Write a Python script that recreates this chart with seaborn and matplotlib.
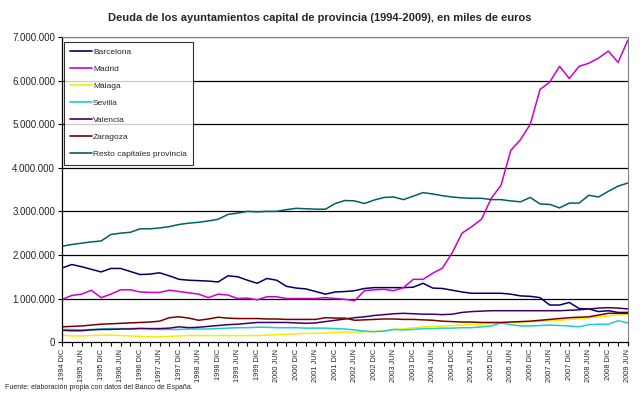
import pandas as pd
import matplotlib
matplotlib.use("Agg")
import matplotlib.pyplot as plt
import seaborn as sns

# quarterly periods, Dec 1994 .. Jun 2009 (labels on every second quarter)
periods = []
for year in range(1994, 2010):
    for q in ["MAR", "JUN", "SEP", "DIC"]:
        periods.append(f"{year} {q}")
periods = periods[periods.index("1994 DIC"):periods.index("2009 JUN") + 1]

# values in millions of euros (x1000 thousands)
barcelona = [1.70, 1.78, 1.73, 1.67, 1.61, 1.69, 1.69, 1.62, 1.55, 1.56,
             1.59, 1.52, 1.44, 1.42, 1.41, 1.40, 1.38, 1.52, 1.50, 1.42,
             1.35, 1.46, 1.42, 1.28, 1.24, 1.22, 1.16, 1.10, 1.15, 1.16,
             1.18, 1.23, 1.25, 1.25, 1.25, 1.25, 1.26, 1.35, 1.24, 1.23,
             1.19, 1.15, 1.12, 1.12, 1.12, 1.12, 1.10, 1.06, 1.05, 1.02,
             0.85, 0.85, 0.91, 0.77, 0.76, 0.70, 0.72, 0.68, 0.68]
madrid = [0.98, 1.07, 1.10, 1.19, 1.02, 1.10, 1.20, 1.20, 1.15, 1.14,
          1.14, 1.19, 1.16, 1.13, 1.10, 1.02, 1.10, 1.08, 1.00, 1.01,
          0.97, 1.04, 1.04, 1.00, 1.00, 1.00, 1.00, 1.02, 1.00, 0.98,
          0.95, 1.18, 1.20, 1.21, 1.18, 1.25, 1.44, 1.44, 1.58, 1.70,
          2.05, 2.50, 2.65, 2.82, 3.30, 3.60, 4.40, 4.65, 5.00, 5.80,
          5.97, 6.33, 6.05, 6.33, 6.40, 6.52, 6.68, 6.42, 6.93]
malaga = [0.16, 0.14, 0.14, 0.15, 0.16, 0.16, 0.15, 0.14, 0.13, 0.12,
          0.12, 0.13, 0.14, 0.15, 0.15, 0.15, 0.15, 0.15, 0.15, 0.15,
          0.15, 0.16, 0.17, 0.18, 0.19, 0.20, 0.20, 0.21, 0.22, 0.23,
          0.23, 0.24, 0.24, 0.26, 0.29, 0.30, 0.33, 0.35, 0.36, 0.37,
          0.38, 0.39, 0.40, 0.41, 0.43, 0.44, 0.45, 0.46, 0.47, 0.48,
          0.49, 0.50, 0.52, 0.53, 0.56, 0.58, 0.60, 0.62, 0.64]
sevilla = [0.29, 0.29, 0.28, 0.29, 0.30, 0.31, 0.31, 0.31, 0.32, 0.30,
           0.29, 0.29, 0.29, 0.30, 0.30, 0.30, 0.31, 0.32, 0.33, 0.33,
           0.34, 0.34, 0.33, 0.33, 0.33, 0.32, 0.32, 0.32, 0.31, 0.30,
           0.28, 0.25, 0.24, 0.25, 0.29, 0.28, 0.29, 0.31, 0.31, 0.32,
           0.32, 0.33, 0.33, 0.35, 0.37, 0.44, 0.40, 0.37, 0.37, 0.38,
           0.39, 0.38, 0.37, 0.35, 0.40, 0.41, 0.41, 0.49, 0.44]
valencia = [0.27, 0.26, 0.26, 0.28, 0.29, 0.29, 0.30, 0.30, 0.31, 0.31,
            0.31, 0.32, 0.35, 0.33, 0.34, 0.36, 0.38, 0.40, 0.41, 0.43,
            0.45, 0.45, 0.45, 0.45, 0.44, 0.43, 0.44, 0.47, 0.50, 0.53,
            0.56, 0.58, 0.61, 0.63, 0.65, 0.66, 0.65, 0.64, 0.64, 0.63,
            0.64, 0.68, 0.70, 0.71, 0.72, 0.72, 0.72, 0.72, 0.72, 0.72,
            0.72, 0.72, 0.73, 0.74, 0.76, 0.78, 0.79, 0.78, 0.76]
zaragoza = [0.35, 0.36, 0.37, 0.39, 0.41, 0.42, 0.43, 0.44, 0.45, 0.46,
            0.48, 0.56, 0.58, 0.55, 0.50, 0.53, 0.57, 0.55, 0.54, 0.54,
            0.54, 0.53, 0.53, 0.52, 0.52, 0.52, 0.52, 0.56, 0.55, 0.55,
            0.50, 0.51, 0.52, 0.53, 0.53, 0.52, 0.52, 0.51, 0.50, 0.48,
            0.47, 0.46, 0.46, 0.45, 0.45, 0.45, 0.46, 0.47, 0.48, 0.50,
            0.52, 0.54, 0.56, 0.57, 0.58, 0.62, 0.66, 0.66, 0.66]
resto = [2.20, 2.24, 2.27, 2.30, 2.32, 2.47, 2.50, 2.52, 2.60, 2.60,
         2.62, 2.65, 2.70, 2.73, 2.75, 2.78, 2.82, 2.93, 2.96, 3.00,
         2.99, 3.00, 3.00, 3.04, 3.07, 3.06, 3.05, 3.05, 3.18, 3.25,
         3.24, 3.18, 3.26, 3.32, 3.33, 3.27, 3.35, 3.43, 3.40, 3.36,
         3.33, 3.31, 3.30, 3.30, 3.27, 3.27, 3.24, 3.22, 3.32, 3.17,
         3.16, 3.08, 3.19, 3.19, 3.37, 3.33, 3.46, 3.58, 3.65]

series = {
    "Barcelona": barcelona,
    "Madrid": madrid,
    "Málaga": malaga,
    "Sevilla": sevilla,
    "Valencia": valencia,
    "Zaragoza": zaragoza,
    "Resto capitales provincia": resto,
}
colors = {
    "Barcelona": "#000066",
    "Madrid": "#CC00CC",
    "Málaga": "#F0F000",
    "Sevilla": "#20CCCC",
    "Valencia": "#400060",
    "Zaragoza": "#7A0000",
    "Resto capitales provincia": "#006060",
}

rows = []
for name, vals in series.items():
    for i, v in enumerate(vals):
        rows.append({"idx": i, "periodo": periods[i], "ciudad": name, "deuda": v * 1e6})
df = pd.DataFrame(rows)

sns.set_style("white")
plt.rcParams["font.family"] = ["Liberation Sans", "DejaVu Sans"]

fig = plt.figure(figsize=(6.4, 3.95), dpi=100)
ax = fig.add_axes([0.097, 0.134, 0.884, 0.772])

for y in range(1, 8):
    ax.axhline(y * 1e6, color="black", lw=0.9, zorder=0)

sns.lineplot(data=df, x="idx", y="deuda", hue="ciudad", palette=colors,
             hue_order=list(series.keys()), lw=1.1, ax=ax)

ax.set_xlim(0, len(periods) - 1)
ax.set_ylim(0, 7e6)
ax.set_yticks([i * 1e6 for i in range(8)])
ax.set_yticklabels(["0"] + [f"{i * 1000000:,}".replace(",", ".") for i in range(1, 8)],
                   fontsize=7)
ax.set_xticks(range(len(periods)))
ax.set_xticklabels([p if i % 2 == 0 else "" for i, p in enumerate(periods)],
                   rotation=90, fontsize=5.3)
ax.tick_params(axis="both", which="both", length=3, width=0.8, color="black",
               direction="out", pad=2, bottom=True, left=True)
ax.set_xlabel("")
ax.set_ylabel("")

for side in ["left", "bottom"]:
    ax.spines[side].set_color("black")
    ax.spines[side].set_linewidth(0.9)
for side in ["top", "right"]:
    ax.spines[side].set_color("#808080")
    ax.spines[side].set_linewidth(0.8)

leg = ax.legend(loc="upper left", bbox_to_anchor=(0.003, 0.985), fontsize=6,
                frameon=True, fancybox=False, edgecolor="black", handlelength=2.6,
                labelspacing=1.1, borderpad=0.8, handletextpad=0.1,
                borderaxespad=0.0)
leg.get_frame().set_linewidth(0.8)
for line in leg.get_lines():
    line.set_linewidth(1.2)

fig.text(0.5, 0.955, "Deuda de los ayuntamientos capital de provincia (1994-2009), en miles de euros",
         ha="center", va="center", fontsize=8, fontweight="bold")
fig.text(0.008, 0.018, "Fuente: elaboración propia con datos del Banco de España.",
         ha="left", va="center", fontsize=5)

plt.savefig("out.png", dpi=100)
plt.close()
